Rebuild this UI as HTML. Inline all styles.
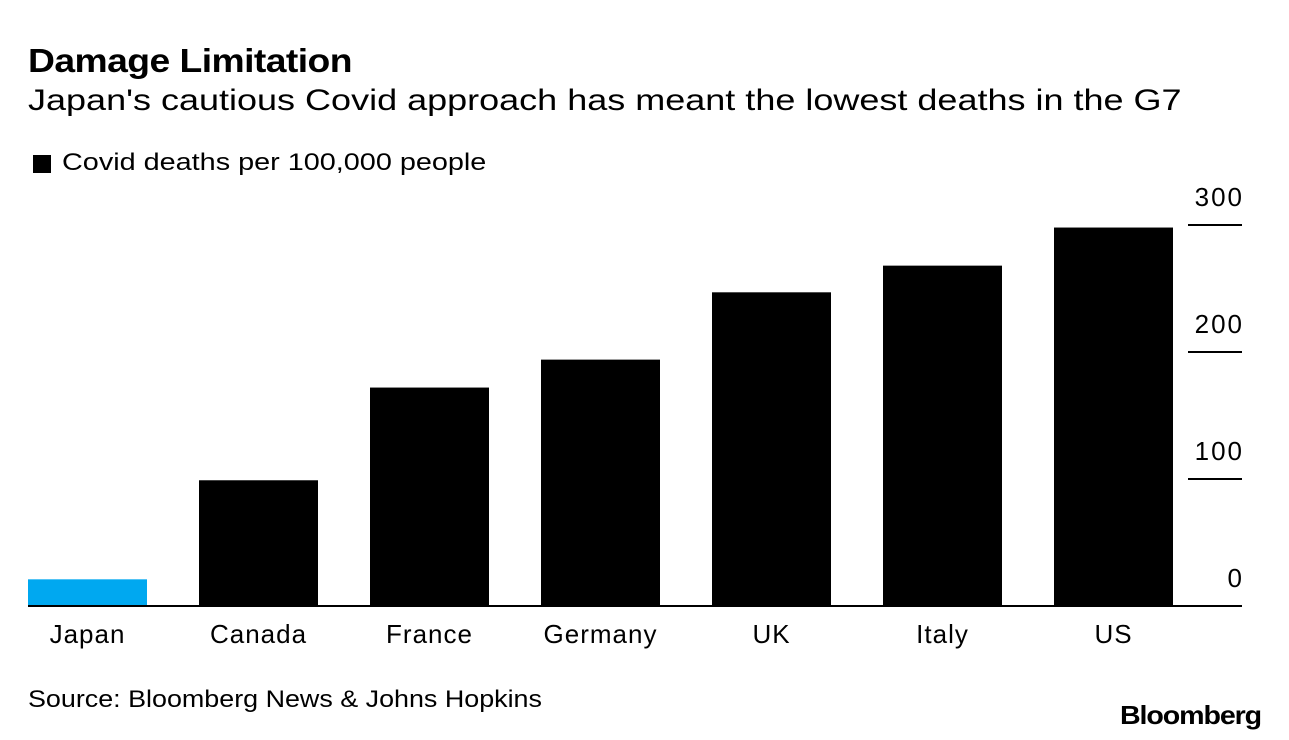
<!DOCTYPE html>
<html><head><meta charset="utf-8">
<style>
body{margin:0;background:#fff;font-family:"Liberation Sans",sans-serif;}
#wrap{position:relative;width:1289px;height:740px;overflow:hidden;background:#fff;}
.t{position:absolute;white-space:nowrap;color:#000;transform-origin:0 0;}
</style></head>
<body>
<div id="wrap">
<div class="t" style="left:28px;top:42px;font-size:33px;font-weight:bold;letter-spacing:-0.5px;transform:scaleX(1.13);">Damage Limitation</div>
<div class="t" style="left:28px;top:84px;font-size:30px;transform:scaleX(1.2);">Japan's cautious Covid approach has meant the lowest deaths in the G7</div>
<div style="position:absolute;left:33px;top:155px;width:18px;height:18px;background:#000;"></div>
<div class="t" style="left:62px;top:149px;font-size:24px;transform:scaleX(1.2);">Covid deaths per 100,000 people</div>
<svg id="chart" width="1289" height="740" style="position:absolute;left:0;top:0;"></svg>
<div class="t" style="left:28px;top:686px;font-size:24px;transform:scaleX(1.12);">Source: Bloomberg News &amp; Johns Hopkins</div>
<div class="t" style="left:1120px;top:700px;font-size:26px;font-weight:bold;letter-spacing:-1px;transform:scaleX(1.1);">Bloomberg</div>
</div>
<script>
const categories=["Japan","Canada","France","Germany","UK","Italy","US"];
const values=[21,99,172,194,247,268,298];
const colors=["#00a8f0","#000","#000","#000","#000","#000","#000"];
const ticks=[0,100,200,300];
const svg=document.getElementById('chart');
const NS='http://www.w3.org/2000/svg';
const y0=606,pxPer=1.27;
function y(v){return y0-v*pxPer;}
function x(i){return 28+i*171;}
const bw=119;
function mk(t,a){const e=document.createElementNS(NS,t);for(const k in a)e.setAttribute(k,a[k]);svg.appendChild(e);return e;}
categories.forEach((c,i)=>{
 const r=mk('rect',{x:x(i),y:y(values[i]),width:bw,height:y0-y(values[i]),fill:colors[i]});
 
 
 const t=mk('text',{x:x(i)+bw/2,y:643,'text-anchor':'middle','font-size':26,'letter-spacing':1,'font-family':'Liberation Sans, sans-serif',fill:'#000'});
 t.textContent=c;
 
 
});
ticks.forEach(v=>{
 if(v>0){const l=mk('line',{x1:1188,x2:1242,y1:y(v),y2:y(v),stroke:'#000','stroke-width':2});
 
 }
 const t=mk('text',{x:1244,y:y(v)-19,'text-anchor':'end','font-size':26,'letter-spacing':2,'font-family':'Liberation Sans, sans-serif',fill:'#000'});
 t.textContent=v;
 
 
});
const b=mk('line',{x1:28,x2:1242,y1:y0,y2:y0,stroke:'#000','stroke-width':2});


</script>
</body></html>
